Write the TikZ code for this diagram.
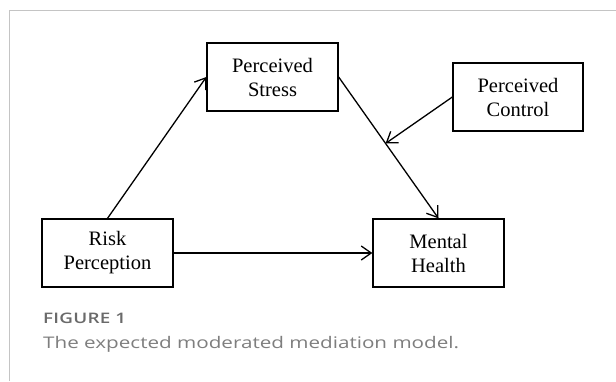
\documentclass[tikz,border=0pt]{standalone}
\usepackage{fontspec}
\setmainfont{Liberation Serif}
\newfontfamily\capfont{Open Sans}[FakeStretch=1.29]
\newfontfamily\capfontb{Open Sans Semibold}[FakeStretch=1.3, LetterSpace=1.5]
\usetikzlibrary{arrows.meta}
\definecolor{framegray}{HTML}{C4C4C4}
\definecolor{labgray}{HTML}{6A6A6A}
\definecolor{capgray}{HTML}{7E7E7E}
\tikzset{
  varbox/.style={draw=black, line width=1.3pt, rectangle, minimum width=131pt, minimum height=68pt,
    inner sep=0pt, align=center, font=\fontsize{20.5}{24}\selectfont},
  conn/.style={draw=black, line width=1.3pt, -{Straight Barb[length=10pt,width=14pt,line width=1.3pt]}},
}
\begin{document}
\begin{tikzpicture}[x=1pt,y=-1pt]
\useasboundingbox (0,0) rectangle (616,381);
\fill[white] (0,0) rectangle (616,381);
\draw[framegray, line width=1.5pt] (9.5,381) -- (9.5,10.5) -- (616,10.5);
\node[varbox] (ps) at (272.5,77) {Perceived\\Stress};
\node[varbox, minimum width=130pt] (pc) at (518,97) {Perceived\\Control};
\node[varbox] (rp) at (107.5,253) {Risk\\Perception};
\node[varbox] (mh) at (438.5,253) {Mental\\Health};
\path (ps.east) -- (mh.north) coordinate[pos=0.47] (mod);
\draw[conn] (rp.north) -- (ps.west);
\draw[conn] (ps.east) -- (mh.north);
\draw[conn] (pc.west) -- (mod);
\draw[conn] (rp.east) -- (mh.west);
\node[anchor=base west, inner sep=0pt, text=labgray, font=\capfontb\fontsize{14.5}{14.5}\selectfont] (fig) at (43,323) {FIGURE 1};
\node[anchor=base west, inner sep=0pt, text=capgray, font=\capfont\fontsize{16}{16}\selectfont] (cap) at (43,348) {The expected moderated mediation model.};
\end{tikzpicture}
\end{document}
